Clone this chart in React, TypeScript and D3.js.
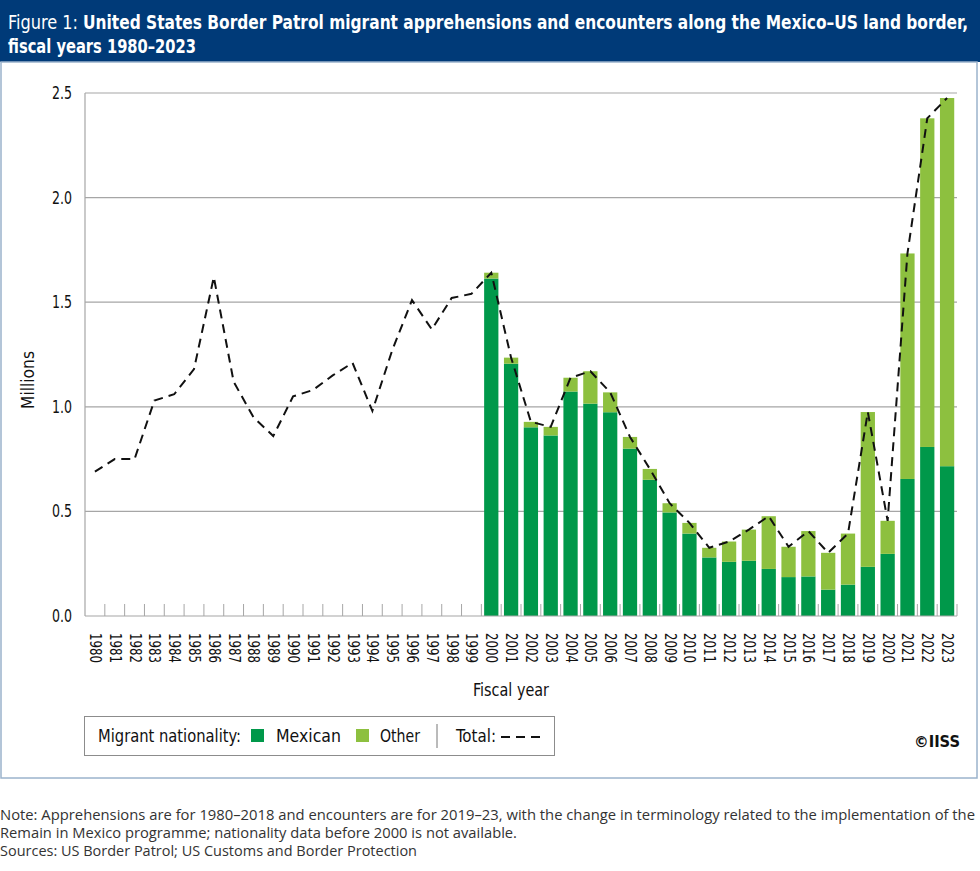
import React from "react";
import * as d3 from "d3";

const years: string[] = d3.range(1980, 2024).map((y) => String(y));

const totalPre2000: number[] = [
  0.69, 0.75, 0.75, 1.03, 1.06, 1.18, 1.62, 1.12, 0.95, 0.86,
  1.05, 1.08, 1.15, 1.21, 0.98, 1.27, 1.51, 1.37, 1.52, 1.54,
];

const barYears: string[] = d3.range(2000, 2024).map((y) => String(y));
const mexican: number[] = [
  1.613, 1.206, 0.902, 0.863, 1.073, 1.015, 0.974, 0.8, 0.651, 0.495,
  0.394, 0.28, 0.259, 0.264, 0.225, 0.186, 0.189, 0.126, 0.15, 0.235,
  0.297, 0.655, 0.808, 0.716,
];
const other: number[] = [
  0.028, 0.029, 0.026, 0.041, 0.066, 0.155, 0.095, 0.056, 0.052, 0.044,
  0.051, 0.046, 0.097, 0.149, 0.252, 0.145, 0.217, 0.176, 0.244, 0.74,
  0.158, 1.078, 1.571, 1.76,
];

const yTicks: number[] = [0, 0.5, 1.0, 1.5, 2.0, 2.5];

const W = 980;
const H = 871;
const plot = { left: 85, right: 957, top: 93, bottom: 616 };
const COND = "'Liberation Sans Narrow', 'DejaVu Sans Condensed', Roboto, sans-serif";
const LIGHT = "'Open Sans', 'Noto Sans', sans-serif";
const MEX = "#00984a";
const OTH = "#8dc03f";

export default function App() {
  const x = d3.scaleBand<string>().domain(years).range([plot.left, plot.right]).paddingInner(0).paddingOuter(0);
  const y = d3.scaleLinear().domain([0, 2.5]).range([plot.bottom, plot.top]);
  const bw = x.bandwidth() * 0.72;

  const stacked = barYears.map((yr, i) => ({ yr, m: mexican[i], o: other[i] }));
  const totals = [
    ...totalPre2000.map((v, i) => ({ yr: years[i], v })),
    ...stacked.map((d) => ({ yr: d.yr, v: d.m + d.o })),
  ];
  const line = d3
    .line<{ yr: string; v: number }>()
    .x((d) => (x(d.yr) as number) + x.bandwidth() / 2)
    .y((d) => y(d.v));

  const adj = "spacingAndGlyphs";

  return (
    <svg width={W} height={H} style={{ position: "absolute", left: 0, top: 0, background: "#fff" }}>
      <rect x={0} y={0} width={W} height={62} fill="#003a78" />
      <text x={8} y={29} fill="#fff" fontFamily={COND} fontSize={20} textLength={70} lengthAdjust={adj}>
        Figure 1:
      </text>
      <g transform="translate(83,29) scale(1,1.22)">
        <text x={0} y={0} fill="#fff" fontFamily={COND} fontSize={16.2} fontWeight="bold" textLength={885} lengthAdjust={adj}>
          United States Border Patrol migrant apprehensions and encounters along the Mexico–US land border,
        </text>
      </g>
      <text x={8} y={53} fill="#fff" fontFamily={COND} fontSize={20} fontWeight="bold" textLength={188} lengthAdjust={adj}>
        fiscal years 1980–2023
      </text>
      <rect x={1} y={62} width={976} height={716} fill="#fff" stroke="#9bb3cc" strokeWidth={1.5} />

      {yTicks.map((t) => (
        <g key={t}>
          {t > 0 && <line x1={plot.left} x2={plot.right} y1={y(t)} y2={y(t)} stroke="#a6a6a6" strokeWidth={1.2} />}
          <text x={72} y={y(t) + 6} textAnchor="end" fontFamily={COND} fontSize={17} fill="#111" textLength={20} lengthAdjust={adj}>
            {t.toFixed(1)}
          </text>
        </g>
      ))}
      <line x1={plot.left} x2={plot.left} y1={plot.top} y2={plot.bottom} stroke="#a6a6a6" strokeWidth={1.2} />

      {stacked.map((d) => {
        const cx = (x(d.yr) as number) + x.bandwidth() / 2;
        return (
          <g key={d.yr}>
            <rect x={cx - bw / 2} y={y(d.m)} width={bw} height={y(0) - y(d.m)} fill={MEX} />
            <rect x={cx - bw / 2} y={y(d.m + d.o)} width={bw} height={y(d.m) - y(d.m + d.o)} fill={OTH} />
          </g>
        );
      })}

      {years.slice(1).map((yr) => (
        <line key={yr} x1={x(yr) as number} x2={x(yr) as number} y1={plot.bottom - 12} y2={plot.bottom} stroke="#a6a6a6" strokeWidth={1} />
      ))}
      <line x1={plot.right} x2={plot.right} y1={plot.bottom - 12} y2={plot.bottom} stroke="#a6a6a6" strokeWidth={1} />
      <line x1={plot.left} x2={plot.right} y1={plot.bottom} y2={plot.bottom} stroke="#a6a6a6" strokeWidth={1.2} />

      <path d={line(totals) as string} fill="none" stroke="#111" strokeWidth={2} strokeDasharray="9,6" />

      {years.map((yr) => {
        const cx = (x(yr) as number) + x.bandwidth() / 2;
        return (
          <text key={yr} transform={`translate(${cx - 5},633) rotate(90)`} fontFamily={COND} fontSize={15} fill="#111" textLength={30} lengthAdjust={adj}>
            {yr}
          </text>
        );
      })}

      <text x={511} y={696} textAnchor="middle" fontFamily={COND} fontSize={17} fill="#111" textLength={76} lengthAdjust={adj}>Fiscal year</text>
      <text transform="translate(34,380) rotate(-90)" textAnchor="middle" fontFamily={COND} fontSize={17} fill="#111" textLength={58} lengthAdjust={adj}>Millions</text>

      <rect x={84.5} y={716.5} width={470} height={39} fill="#fff" stroke="#8c8c8c" strokeWidth={1} />
      <text x={98} y={742} fontFamily={COND} fontSize={17} fill="#111" textLength={143} lengthAdjust={adj}>Migrant nationality:</text>
      <rect x={251} y={729} width={13} height={13} fill={MEX} />
      <text x={276} y={742} fontFamily={COND} fontSize={17} fill="#111" textLength={65} lengthAdjust={adj}>Mexican</text>
      <rect x={356} y={729} width={13} height={13} fill={OTH} />
      <text x={380} y={742} fontFamily={COND} fontSize={17} fill="#111" textLength={40} lengthAdjust={adj}>Other</text>
      <line x1={437} x2={437} y1={724} y2={748} stroke="#777" strokeWidth={1} />
      <text x={456} y={742} fontFamily={COND} fontSize={17} fill="#111" textLength={40} lengthAdjust={adj}>Total:</text>
      <line x1={501} x2={541} y1={737} y2={737} stroke="#111" strokeWidth={2} strokeDasharray="9,6" />

      <text x={960} y={747} textAnchor="end" fontFamily={COND} fontSize={16} fontWeight="bold" fill="#111" textLength={46} lengthAdjust={adj}>©IISS</text>

      <text x={0} y={820} fontFamily={LIGHT} fontSize={14} fill="#333" textLength={975} lengthAdjust={adj}>
        Note: Apprehensions are for 1980–2018 and encounters are for 2019–23, with the change in terminology related to the implementation of the
      </text>
      <text x={0} y={838} fontFamily={LIGHT} fontSize={14} fill="#333" textLength={517} lengthAdjust={adj}>
        Remain in Mexico programme; nationality data before 2000 is not available.
      </text>
      <text x={0} y={856} fontFamily={LIGHT} fontSize={14} fill="#333" textLength={417} lengthAdjust={adj}>
        Sources: US Border Patrol; US Customs and Border Protection
      </text>
    </svg>
  );
}
